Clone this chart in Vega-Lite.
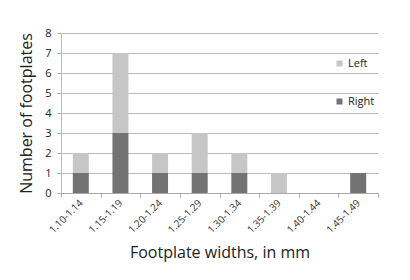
{
  "$schema": "https://vega.github.io/schema/vega-lite/v6.json",
  "autosize": "none",
  "width": 317,
  "height": 160,
  "padding": {"left": 61, "top": 33, "right": 32, "bottom": 87},
  "background": "white",
  "data": {"values": [
    {"range": "1.10-1.14", "side": "Right", "count": 1},
    {"range": "1.10-1.14", "side": "Left", "count": 1},
    {"range": "1.15-1.19", "side": "Right", "count": 3},
    {"range": "1.15-1.19", "side": "Left", "count": 4},
    {"range": "1.20-1.24", "side": "Right", "count": 1},
    {"range": "1.20-1.24", "side": "Left", "count": 1},
    {"range": "1.25-1.29", "side": "Right", "count": 1},
    {"range": "1.25-1.29", "side": "Left", "count": 2},
    {"range": "1.30-1.34", "side": "Right", "count": 1},
    {"range": "1.30-1.34", "side": "Left", "count": 1},
    {"range": "1.35-1.39", "side": "Right", "count": 0},
    {"range": "1.35-1.39", "side": "Left", "count": 1},
    {"range": "1.40-1.44", "side": "Right", "count": 0},
    {"range": "1.40-1.44", "side": "Left", "count": 0},
    {"range": "1.45-1.49", "side": "Right", "count": 1},
    {"range": "1.45-1.49", "side": "Left", "count": 0}
  ]},
  "config": {
    "font": "Open Sans",
    "view": {"stroke": null}
  },
  "mark": {"type": "bar", "width": 16},
  "encoding": {
    "x": {
      "field": "range", "type": "nominal", "sort": null,
      "scale": {"paddingInner": 0, "paddingOuter": 0},
      "axis": {
        "title": "Footplate widths, in mm",
        "titleFontSize": 16, "titleFontWeight": "normal", "titleColor": "#222",
        "titlePadding": 10,
        "labelAngle": -45, "labelAlign": "right", "labelBaseline": "middle",
        "labelFontSize": 10, "labelColor": "#333", "labelPadding": 4,
        "labelOverlap": false,
        "tickBand": "extent", "ticks": true, "tickSize": 4, "tickColor": "#aaa",
        "domainColor": "#aaa", "grid": false
      }
    },
    "y": {
      "field": "count", "type": "quantitative", "stack": "zero",
      "scale": {"domain": [0, 8]},
      "axis": {
        "title": "Number of footplates",
        "titleFontSize": 16, "titleFontWeight": "normal", "titleColor": "#222",
        "titlePadding": 10,
        "values": [0, 1, 2, 3, 4, 5, 6, 7, 8],
        "labelOverlap": false,
        "labelFontSize": 11, "labelColor": "#222", "labelPadding": 6,
        "grid": true, "gridColor": "#bdbdbd",
        "ticks": true, "tickSize": 4, "tickColor": "#aaa",
        "domainColor": "#bbb"
      }
    },
    "color": {
      "field": "side", "type": "nominal",
      "scale": {"domain": ["Left", "Right"], "range": ["#c6c6c6", "#737373"]},
      "legend": {
        "title": null, "orient": "none", "legendX": 273, "legendY": 25,
        "symbolType": "square", "symbolSize": 36, "symbolStrokeWidth": 0,
        "labelFontSize": 11, "labelColor": "#222", "rowPadding": 26, "labelOffset": 3
      }
    },
    "order": {"field": "side", "sort": "descending"}
  }
}
